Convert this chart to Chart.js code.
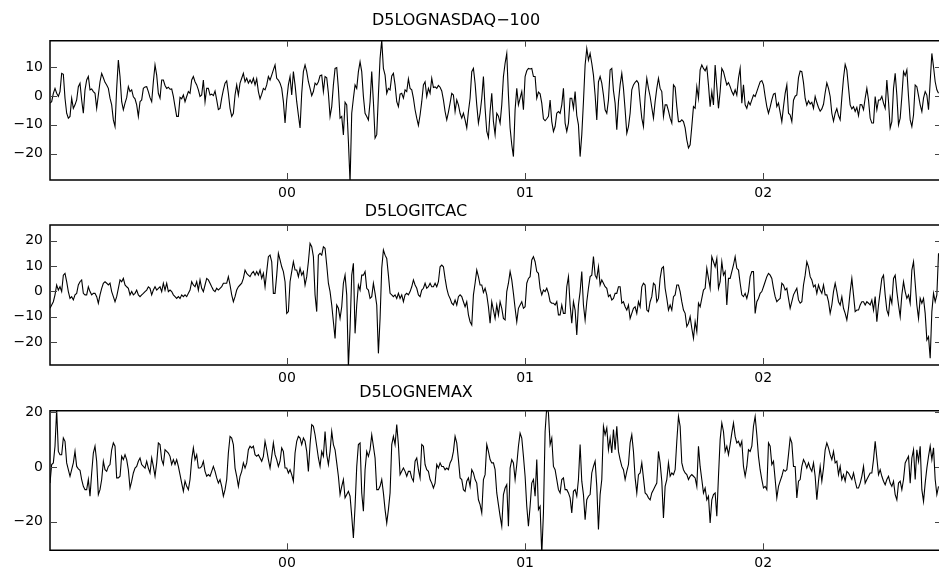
<!DOCTYPE html>
<html>
<head>
<meta charset="utf-8">
<script src="https://cdn.jsdelivr.net/npm/chart.js@4.4.1/dist/chart.umd.min.js"></script>
<style>
  html, body { margin: 0; padding: 0; background: #fff; overflow: hidden; }
  body { width: 939px; height: 569px; position: relative; }
  .panel { position: absolute; left: 0; width: 939px; }
  .panel canvas { display: block; }
</style>
</head>
<body>
<div class="panel" style="top:0px"><canvas id="graph_nasdaq" width="939" height="200"></canvas></div>
<div class="panel" style="top:195px"><canvas id="graph_itcac" width="939" height="190"></canvas></div>
<div class="panel" style="top:378px"><canvas id="graph_nemax" width="939" height="191"></canvas></div>
<script>
// 5-period log differences, every 0.007 yr (about 2.5 days) from early Jan 1999
const startYear = 1999.005
const stepYears = 0.007

const nasdaq100 = [
  -2.5, -2.0, 0.9, 2.6, 0.9, -0.2, 1.5, 7.8, 7.5, -0.8, -6.0, -7.7, -7.1, -0.8, -4.3, -3.1, -1.4, 3.2, 4.4, -1.4,
  -6.0, 2.1, 5.5, 6.7, 2.1, 2.4, 1.5, 0.9, -4.3, 0.3, 4.9, 7.8, 6.3, 4.7, 3.8, 2.6, -0.8, -3.1, -8.3, -10.6,
  2.6, 12.4, 6.7, -2.0, -4.8, -2.5, -0.6, 3.2, 1.5, 2.1, -0.3, -1.0, -3.1, -7.1, -2.0, -1.4, 2.6, 3.1, 3.2, 1.5,
  -0.6, -2.0, 4.9, 10.7, 7.2, 0.9, -0.8, 5.5, 5.5, 3.6, 2.6, 3.0, 2.3, 2.4, -0.2, -3.7, -7.1, -7.1, -0.5, -1.0,
  0.3, -2.0, -0.2, 1.5, 0.9, 5.5, 6.7, 4.9,
  3.8, 2.1, -0.2, 0.3, 5.5, -2.0, 2.6, 2.6, 0.3, 0.6, 0.1, 1.7,
  -1.4, -4.7, -4.3, -0.8, 2.1, 4.4, 5.2, 0.9, -4.3, -7.1, -6.0, 0.3, 3.8, 0.3, 4.4, 6.1, 7.8, 4.9, 6.1, 4.4,
  5.5, 4.4, 6.1, 3.8, 5.9, 1.5, -1.0, 0.6, 2.6, 2.1, 3.8, 6.7, 5.5, 7.2, 9.0, 10.7, 6.1, 5.5, 4.4, 2.6,
  -2.0, -9.4, -1.4, 3.8, 6.7, 0.3, 8.4, 3.8, -2.0, -6.6, -11.1, 0.9, 8.4, 10.7, 8.4, 4.9, 2.6, 0.1, 1.5, 4.4,
  3.8, 4.9, 7.0, 7.2, 1.5, 6.7, 6.3, 0.9, -7.1, -3.7, 3.8, 9.5, 9.8, 2.6, -7.7, -7.1, -13.5,
  -2.2, -3.1, -15.7, -30, -6.0, -0.8, 3.8, 2.6, 8.4, 11.8, 8.4, -0.2, -6.0, -7.1, -8.3, -2.0, 8.4, -2.0, -14.6, -13.4, 0.3, 13.0, 19.3,
  9.5, 7.2, 0.9, 2.6, 2.1, 6.9, 7.8, 3.8, -2.0, -3.7, 0.6, 0.9, -0.8, 2.1, 1.5, 5.9, 2.6, 2.1, -0.8, -4.8,
  -7.7, -10.2, -6.6, -2.0, 3.8, 4.9, -0.2, 2.6, 0.9, 6.1, 2.9, 3.1, 2.6, 3.6, 3.0, 1.7, -1.4, -5.4, -8.3, -5.6,
  -2.5, 0.9, 0.3, -5.4, -1.4, -3.1, -6.0, -7.7, -6.0, -8.3, -11.1, -5.4, -0.8, 8.4, 9.5, 4.4, -3.1, -9.4, -6.0, -0.8,
  6.7, -4.3, -12.3, -14.4, -5.4, 0.9,
  -8.9, -13.4, -6.0, -7.0, -9.4, -3.1, 6.7, 11.3, 14.7, 0.3, -11.1, -16.9, -21.0, -4.8,
  2.6, -3.1, -0.8, 1.5, -4.8, 6.7, 8.7, 9.5, 9.3, 9.5, 6.7, 6.7, -0.8, 1.3, 0.7, -2.5, -7.9, -8.6, -7.9, -7.1,
  -1.4, -8.9, -12.3, -10.6, -6.0, -5.4, -6.0, -3.1, 2.6, -9.4, -12.3, -9.4, -0.8, -0.8, -4.3, 1.5, -6.8, -10.0, -21.0, -13.4,
  -2.0, 10.7, 16.4, 12.4, 14.7, 11.3, 7.2, 0.3, -8.3, 4.9, 6.7, 4.4, 0.3, -4.8, -6.0, -1.4, 9.0, 9.5, 1.8, -2.5,
  -11.7, -2.0, 3.8, 7.8, 2.6, -4.8, -12.9, -10.6, -6.0, 2.1, 3.8, 4.7, 5.3, 4.4, -2.0,
  -7.7, -10.6, -0.2, 6.1, 2.6, -0.2, -4.0, -7.7, -2.0, 2.6, 6.1, 2.6, 1.5, -7.1, -3.1, -3.1, -5.2, -7.7, -9.4, 3.8,
  3.0, -3.7, -8.9, -8.9, -8.3, -8.9, -11.1, -15.2, -18.0, -16.9, -10.6, -3.7, -4.3, 3.2, -0.8, 9.0, 10.7, 9.5, 8.7, 10.1,
  3.8, -3.7, 1.5, -3.1, 10.7, 3.2, -4.3, 1.5, 9.5, 8.4, 6.1, 3.8, 4.6, 3.2, 1.5, 0.3, 2.1, 0.3, 6.1, 9.5,
  -2.5, 3.8, -3.1, -4.3, -2.0, -3.1, -1.4, 0.3, -0.2, 1.5, 3.2, 4.9, 5.3, 3.8, -0.2, -3.7, -6.0, -3.9, -1.4, 0.6,
  0.9, -3.7, -2.5, -5.7, -8.9, -3.7, 0.9, 3.8, -6.0,
  -6.6, -8.9, -1.5, -0.1, 0.3, 6.3, 8.6, 8.4, 4.6, -0.9, -3.2, -1.7, -2.8, -2.2, -4.3, -0.2, -2.3, -4.0, -5.3, -4.5,
  -2.9, 1.1, 4.5, 2.6, -0.2, -6.0, -8.7, -6.0, -4.4, -6.8, -8.3, -0.6, 6.1, 10.9, 8.9, 2.9, -3.1, -4.5, -3.7, -5.4,
  -4.0, -6.8, -3.0, -3.1, -4.8, -0.8, 2.6, -1.4, -7.7, -9.4, -9.4, -0.2, -4.8, -1.4, -1.4, -0.2, -2.5, -4.3, 5.5, -2.0,
  -11.1, -8.9, 2.6, 7.8, 0.3, -10.0, -7.7, -0.2, 8.4, 7.0, 9.0, -0.2, -8.3, -10.6, -6.6, 3.8, 3.2, 0.1, -3.1, -5.4,
  -0.8, 1.5, 0.3, -4.8, 4.9, 14.7, 10.1, 4.9, 2.1, 0.9
]

const itcac = [
  -6.7, -5.4, -4.1, -1.4, 2.5, 0.5, 1.8, -0.1, 6.4, 7.1, 3.8, -0.1, -2.8, -2.1, -3.4, -1.4, -0.8, 2.5, 3.8, 4.5,
  -0.8, -1.4, -1.4, 1.8, -0.1, -1.4, -0.8, -0.8, -2.1, -4.7, -1.4, 1.2, 3.2, 3.8, 3.2, 2.5, 3.2, -0.1, -2.1, -4.1,
  -2.1, 1.2, 4.5, 3.8, 5.1, 2.5, 1.8, 1.2, -1.4, -0.1, -1.4, -0.8, 0.5, -1.4, -2.1, -1.4, -0.8, -0.1, 0.5, 1.8,
  1.2, -1.4, 0.5, 1.8, 0.5, 1.2, 1.8, -0.1, 3.2, 0.5, 3.2, -0.1, 0.5, -0.1, -1.4, -2.1, -2.8, -2.1, -2.8, -1.4,
  -2.1, -1.4, -2.1, -0.8, 0.5, 3.8, 2.5, 1.8, 3.8, 0.5, 4.5, 1.2, -0.1, 2.5, 5.1, 4.5, 3.2, 1.8, 0.5, -0.1,
  1.2, 0.5, 1.2, 1.8, 3.2, 3.2, 3.2, 5.8, 2.5, -1.4, -4.1, -2.1, 0.5, 1.8, 2.5, 3.2, 5.1, 8.4, 7.1, 6.4,
  5.8, 7.1, 7.8, 6.4, 7.8, 6.4, 8.4, 5.1, 7.1, 1.8, 7.8, 13.7, 14.3, 11.7, -0.8, -0.8, 6.4, 15.0, 12.4, 9.7,
  7.8, 3.8, -8.7, -8.0, 3.8, 7.8, 11.7, 8.4, 8.4, 5.8, 9.1, 6.4, 7.8, 2.5, 5.8, 11.7, 18.9, 17.6, 13.7, -1.4,
  -8.0, 14.3, 15.0, 14.3, 17.6, 17.0, 10.4, 3.2, -0.1, -5.4, -12.0, -18.6, -5.4, -6.7, -10.7, -6.1, 3.2, 6.4, -1.4, -30,
  -14.6, 6.4, 11.1, -16.6, -5.4, 2.5, 0.5, 6.4, 6.4, 7.8, 1.2, 0.5, -2.8, -2.1, 3.2, -0.8, -5.4, -24.5, -10.7, 9.1,
  16.3, 14.3, 13.0, 6.4, -0.8, -1.4, -2.1, -1.4, -2.8, -0.8, -2.8, -1.4, -4.1, -1.4, -0.8, -1.4, -0.1, 1.8, 4.5, 2.5,
  1.2, -1.4, -2.1, 0.5, 1.2, 3.2, 1.2, 1.8, 3.2, 1.8, 1.8, 3.2, 1.8, 3.8, 9.7, 10.4, 9.7, 5.1, 1.2, -1.4,
  -2.8, -4.7, -5.4, -3.4, -5.4, -2.1,
  -1.4, -2.1, -4.1, -6.1, -4.1, -9.3, -12.0, -13.3, -1.4, 3.2, 8.4, 5.8, 2.5, 2.5, -0.4, 1.2, -1.4, -6.1, -12.6, -4.1,
  -7.4, -10.7, -5.4, -9.3, -4.1, -6.7, -10.7, -11.3, -0.1, 3.2, 7.8, 4.5, -0.8, -6.7, -12.0, -6.7, -5.4, -4.1, -6.7, -6.1,
  3.2, 5.1, 5.8, 12.4, 13.7, 11.7, 7.8, 7.1, 1.2, -1.4, 0.5, -0.1, 1.2, -0.8, -4.1, -4.7, -4.7, -5.4, -4.1, -9.3,
  -9.3, -5.4, -8.7, -8.7, 1.8, 5.8, -5.4, -12.6, -4.1, -7.4, -17.2, -5.4, -0.1, 7.8, -5.4, -11.3, -4.1, 1.2, 5.8, 6.4,
  13.7, 6.4, 5.1, 9.7, 2.5, 4.5, 3.2, 1.8, 1.2, -2.1, -1.4, -3.4, -2.8, -0.8, -0.8, 1.8, 1.8, -4.7, -4.1, -6.1,
  -7.4, -5.4, -10.7, -8.7, -6.7, -6.1, -8.7, -4.1, -6.1, 1.8, 3.2, 2.5, -7.4, -8.0, -4.1, -2.1, 3.2, 2.5, -4.1, -2.8,
  5.1, 9.1, 9.7, 1.2, -2.8, -7.4, -5.4, -7.4, -2.1, -1.4, 2.5, 2.5, -0.1, -4.1, -7.4, -8.7, -13.9, -12.6, -10.0, -14.6,
  -18.6, -12.0, -15.9, -4.7, -6.1, -2.8, 0.5, 1.2, 9.1, 5.1, 1.2, 13.7, 11.7, 9.7, 13.0, 1.2, 3.8, 11.7, 6.4, 7.8,
  -5.4, 5.1, 5.1, 7.8, 10.4, 13.7, 9.1, 8.4, 3.2, -1.4, -2.1, -0.8, -2.8, -0.1, 5.8, 7.8, 7.8, -8.7, -4.1, -2.8,
  -0.8, -0.1, 1.8, 3.8, 5.8, 7.1, 6.4, 5.1, 1.2, -2.1, -4.1, -3.4, -2.8, 3.2, 2.5, 0.5, 1.2, -2.8, -6.7, -4.1,
  -1.4, -0.1, 1.2, -3.4, -4.7, -4.1, 2.5, 6.4, 11.7, 9.7, 5.8, 4.5, 1.8, 2.5, -0.8, 2.5, 0.5, -0.8, 2.5, -1.4,
  -1.4, -4.1, -8.7, -5.4, -0.1, 3.2, -0.1, -4.1, -5.4, -2.1, -6.7, -8.7, -11.3, -6.7, -0.1, 5.1, -1.4, -8.0, -7.4, -7.4,
  -5.4, -4.1, -4.1, -5.4, -4.1, -4.7, -5.4, -3.4, -7.4, -2.1, -12.0, -5.4, -0.1, 5.1, 6.4, -1.4, -7.4, -9.3, -2.1, -4.7,
  5.1, 6.4, -0.1, -5.4, -10.0, -1.4, 3.8, -0.1, -2.8, -1.4, -4.7, 8.4, 11.7, 3.2, -5.4, -10.7, -2.8, -4.7, -2.8, -8.7,
  -19.2, -17.9, -26.4, -8.0, -0.8, -4.1, -1.4, 15.0
]

const nemax = [
  -5.9, 0.9, 1.5, 7.6, 21, 5.7, 4.5, 4.5, 10.6, 9.4, 1.5, -1.0, -3.4, -1.0, 1.5, 5.7, 0.2, -0.7, -1.2, -4.6,
  -7.1, -8.3, -8.3, -4.6, -10.7, -2.2, 5.1, 7.6, 2.1, -10.1, -8.3, -4.6, 2.1, -1.0, -1.6, 0.2, 0.9, 6.3, 8.8, 7.6,
  -4.0, -4.0, -3.4, 3.9, 2.7, 4.5, 2.7, -1.0, -7.7, -5.2, -2.2, -0.4, 0.2, 2.1, 3.3, 0.9, 0.2, -0.4, 2.1, -0.4,
  -2.2, 3.3, 0.2, -3.4, 1.5, 8.8, 8.2, 2.7, 0.9, 6.3, 5.7, 5.1, 3.9, 0.9, 2.7, 0.9, 2.7, 0.2, -2.8, -5.9,
  -8.9, -5.2, -7.1, -8.3, -4.6, 2.7, 7.0, 2.7, 4.5, -0.4, -0.4, 0.2, 2.1, -1.6, -3.4, -2.8, -3.4, -1.6, 0.2, -1.6,
  -4.0, -5.9, -4.6, -7.1, -10.7, -8.3, -4.6, 5.1, 11.2, 10.6, 8.2, -0.4, -3.4, -7.1, -3.4, -1.6, 1.5, -0.4, 1.5, 6.3,
  7.6, 7.0, 7.6, 4.5, 3.9, 4.5, 3.3, 2.1, 3.9, 9.4, 6.3, 2.7, -0.4, 3.9, 8.8, 4.5, 2.7, 0.2, 2.1, 7.0,
  5.7, -0.4, -0.4, -2.2, -1.0, -2.8, -5.2, 5.1, 9.4, 11.2, 10.6, 8.2, 10.6, 9.4, 5.7, -1.6, 8.2, 15.5, 14.9, 11.8,
  7.6, 3.3, 0.2, 5.7, 3.9, 13.0, 4.5, 0.9, 5.7, 13.0, 8.2, 6.3, 1.5, -3.4, -10.1, -7.1, -4.6, -11.3, -10.1, -8.9,
  -10.7, -18.0, -26.0, -14.4, 0.2, 8.2, 8.8, -9.5, -16.2, -1.0, 5.7, 3.9, 6.3, 11.8, 7.6, 3.3, -8.3, -8.3, -7.1, -4.6,
  -9.5, -15.6, -20.5, -15.6, -9.5, 8.2, 11.2, 8.2, 15.5, 8.2, -2.8, -1.6, -0.4, -1.6, -3.4, -1.6, -1.6, -4.0, -5.2, 2.1,
  3.3, -1.0, -4.0, 8.2, 7.6, 0.9, -1.0, -1.6, -4.6, -5.9, -7.7, -5.9, 0.9, -0.4, 1.5, 0.2, 0.2, -1.0, -0.4, -1.0,
  1.5, 2.7, 5.7, 11.2, 8.8, 2.7,
  -4.0, -4.6, -8.3, -8.9, -5.2, -4.0, -7.1, -1.0, -2.2, -4.6, -5.9, -12.0, -13.8, -16.8, -4.6, -2.8, 8.2, 5.7, 2.7, 1.5,
  1.5, -1.0, -9.5, -13.8, -18.0, -21.7, -10.1, -7.7, -6.5, -21.7, -0.4, 2.7, 1.5, -4.6, 0.9, 7.6, 12.4, 10.6, 3.9, -3.4,
  -14.4, -21.7, -14.4, -5.9, -4.6, -10.7, 2.7, -15.6, -14.4, -32, -16.8, 13.0, 22, 19.8, 8.2, 10.6, 0.2, -1.0, -4.6, -8.3,
  -9.5, -4.6, -4.0, -8.3, -8.3, -9.5, -11.3, -16.8, -8.9, -8.3, -10.7, -4.6, 8.2, -5.2, -10.1, -19.3, -12.0, -10.7, -10.1, -2.2,
  0.2, 2.1, -7.1, -22.9, -10.1, -4.6, 14.9, 11.8, 14.3, 6.3, 10.6, 5.1, 13.7, 6.3, 14.9, 5.7, 2.7, 0.2, -1.0, -4.6,
  -1.6, 0.9, 8.8, 11.8, 5.7, -4.0, -9.5, -2.8, -2.2, 1.5, -4.0, -9.5, -10.1, -11.3, -12.0, -9.5, -8.3, -7.1, -5.9, 5.7,
  1.5, -5.2, -18.7, -7.1, -4.6, 1.5, -3.4, -2.2, -2.8, -1.0, 9.4, 18.5, 14.9, 1.5, -1.0, -2.2, -2.8, -4.6, -3.4, -2.8,
  -3.4, -4.0, -7.1, 7.6, 0.2, -4.6, -9.5, -7.7, -12.0, -10.7, -20.5, -12.0, -10.1, -9.5, -18.0, -3.4, 10.0, 16.1, 13.0, 5.7,
  7.6, 4.5, 8.2, 12.4, 16.1, 11.2, 8.8, 9.4, 7.6, 9.4, 0.2, -3.4, 0.2, 6.3, 5.7, 7.6, 14.9, 18.5, 11.8, 3.9,
  -1.0, -4.6, -7.7, -7.1, -8.3, 8.8, 7.6, 0.9, 2.1, -4.6, -11.3, -7.1, -5.2, -3.4, -1.0, -1.6, -1.0, 4.5, 10.6, 8.8,
  0.2, 0.2, -11.3, -5.2, -4.6, 0.2, 2.7, 1.5, -0.4, 1.5, -0.4, -1.6, 1.5, -3.4, -12.0, -5.2, 0.2, -5.2, -0.4, 6.3,
  8.8, 7.0, 4.5, 2.7, 5.7, 1.5, 2.1, -2.8, 0.2, -4.6, -2.8, -5.2, -1.6, -2.2, -3.4, -4.6, -2.2, -5.2, -7.7, -7.7,
  -5.9, -3.4, 0.2, -5.9, -4.6, -3.4, -2.2, -2.2, 2.7, 9.4, 3.3, -2.8, -1.0, -3.4, -5.2, -6.5, -4.6, -3.4, -5.9, -7.1,
  -5.2, -10.1, -12.0, -5.9, -5.2, -8.3, -4.6, 1.5, 2.7, 3.9, -5.9, 3.3, 6.3, -4.6, 6.3, 2.1, 7.6, -8.3, -12.6, -5.9,
  -0.4, 3.9, 7.6, 2.7, 7.0, -4.6, -10.1, -7.1
]

const yearTicks = [2000, 2001, 2002]
const yearLabels = ['00', '01', '02']
const ticksNasdaq = [-20, -10, 0, 10]
const ticksCac = [-20, -10, 0, 10, 20]
const ticksNemax = [-20, 0, 20]

const fontFamily = "'DejaVu Sans', sans-serif"

// box round the plot, ticks pointing inward, and title nudged to where it sits in the original
const framePlugin = {
  id: 'frame',
  afterLayout(chart, args, opts) {
    const t = chart.titleBlock
    if (t && opts.titleX) {
      const half = (t.right - t.left) / 2
      t.left = opts.titleX - half
      t.right = opts.titleX + half
    }
  },
  afterDatasetsDraw(chart) {
    const { ctx, chartArea: a, scales: { x, y } } = chart
    ctx.save()
    ctx.strokeStyle = '#000'
    ctx.lineWidth = 1.5
    ctx.beginPath()
    ctx.moveTo(a.right, a.top)
    ctx.lineTo(a.left, a.top)
    ctx.lineTo(a.left, a.bottom)
    ctx.lineTo(a.right, a.bottom)
    ctx.stroke()

    ctx.strokeStyle = '#444'
    ctx.lineWidth = 1
    ctx.beginPath()
    x.ticks.forEach(t => {
      const px = Math.round(x.getPixelForValue(t.value)) + 0.5
      ctx.moveTo(px, a.top); ctx.lineTo(px, a.top + 6)
      ctx.moveTo(px, a.bottom); ctx.lineTo(px, a.bottom - 7)
    })
    y.ticks.forEach(t => {
      const py = Math.round(y.getPixelForValue(t.value)) + 0.5
      ctx.moveTo(a.left, py); ctx.lineTo(a.left + 7, py)
      ctx.moveTo(a.right, py); ctx.lineTo(a.right - 4, py)
    })
    ctx.stroke()
    ctx.restore()
  }
}

function toPoints(values) {
  return values.map((v, i) => ({ x: startYear + i * stepYears, y: v }))
}

function minusSign(v) {
  return v < 0 ? '\u2212' + Math.abs(v) : String(v)
}

function createChart(chartId, title, values, yMin, yMax, yTicks, lay) {
  const ctx = document.getElementById(chartId).getContext('2d')
  return new Chart(ctx, {
    type: 'line',
    data: {
      datasets: [{
        data: toPoints(values),
        borderColor: '#000',
        borderWidth: 1.1,
        pointRadius: 0,
        tension: 0,
        fill: false,
      }]
    },
    plugins: [framePlugin],
    options: {
      responsive: false,
      animation: false,
      events: [],
      layout: { padding: 0 },
      plugins: {
        legend: { display: false },
        tooltip: { enabled: false },
        title: {
          display: true,
          text: title,
          color: '#000',
          font: { family: fontFamily, size: 16, weight: 'normal', lineHeight: 1.2 },
          padding: { top: lay.titleTop, bottom: lay.titleBottom },
        },
        frame: { titleX: lay.titleX },
      },
      scales: {
        x: {
          type: 'linear',
          min: 1999.005,
          max: 2002.738,
          grid: { display: false, drawTicks: false },
          border: { display: false },
          afterBuildTicks: scale => { scale.ticks = yearTicks.map(v => ({ value: v })) },
          afterFit: scale => { scale.height = lay.xHeight },
          ticks: {
            color: '#000',
            font: { family: fontFamily, size: 14 },
            padding: 4.5,
            maxRotation: 0,
            autoSkip: false,
            callback: (v) => yearLabels[yearTicks.indexOf(v)],
          },
        },
        y: {
          min: yMin,
          max: yMax,
          grid: { display: false, drawTicks: false },
          border: { display: false },
          afterBuildTicks: scale => { scale.ticks = yTicks.map(v => ({ value: v })) },
          afterFit: scale => { scale.width = 50 },
          ticks: {
            color: '#000',
            font: { family: fontFamily, size: 14 },
            padding: 7,
            callback: (v) => minusSign(v),
          },
        },
      },
    }
  })
}

createChart('graph_nasdaq', 'D5LOGNASDAQ\u2212100', nasdaq100, -29.1, 19.1, ticksNasdaq,
  { titleTop: 10.9, titleBottom: 10.6, xHeight: 20, titleX: 456 })
createChart('graph_itcac', 'D5LOGITCAC', itcac, -29.1, 26.2, ticksCac,
  { titleTop: 7.1, titleBottom: 3.7, xHeight: 20, titleX: 416 })
createChart('graph_nemax', 'D5LOGNEMAX', nemax, -30.5, 20.6, ticksNemax,
  { titleTop: 5.7, titleBottom: 7.8, xHeight: 18.7, titleX: 416 })
</script>
</body>
</html>
